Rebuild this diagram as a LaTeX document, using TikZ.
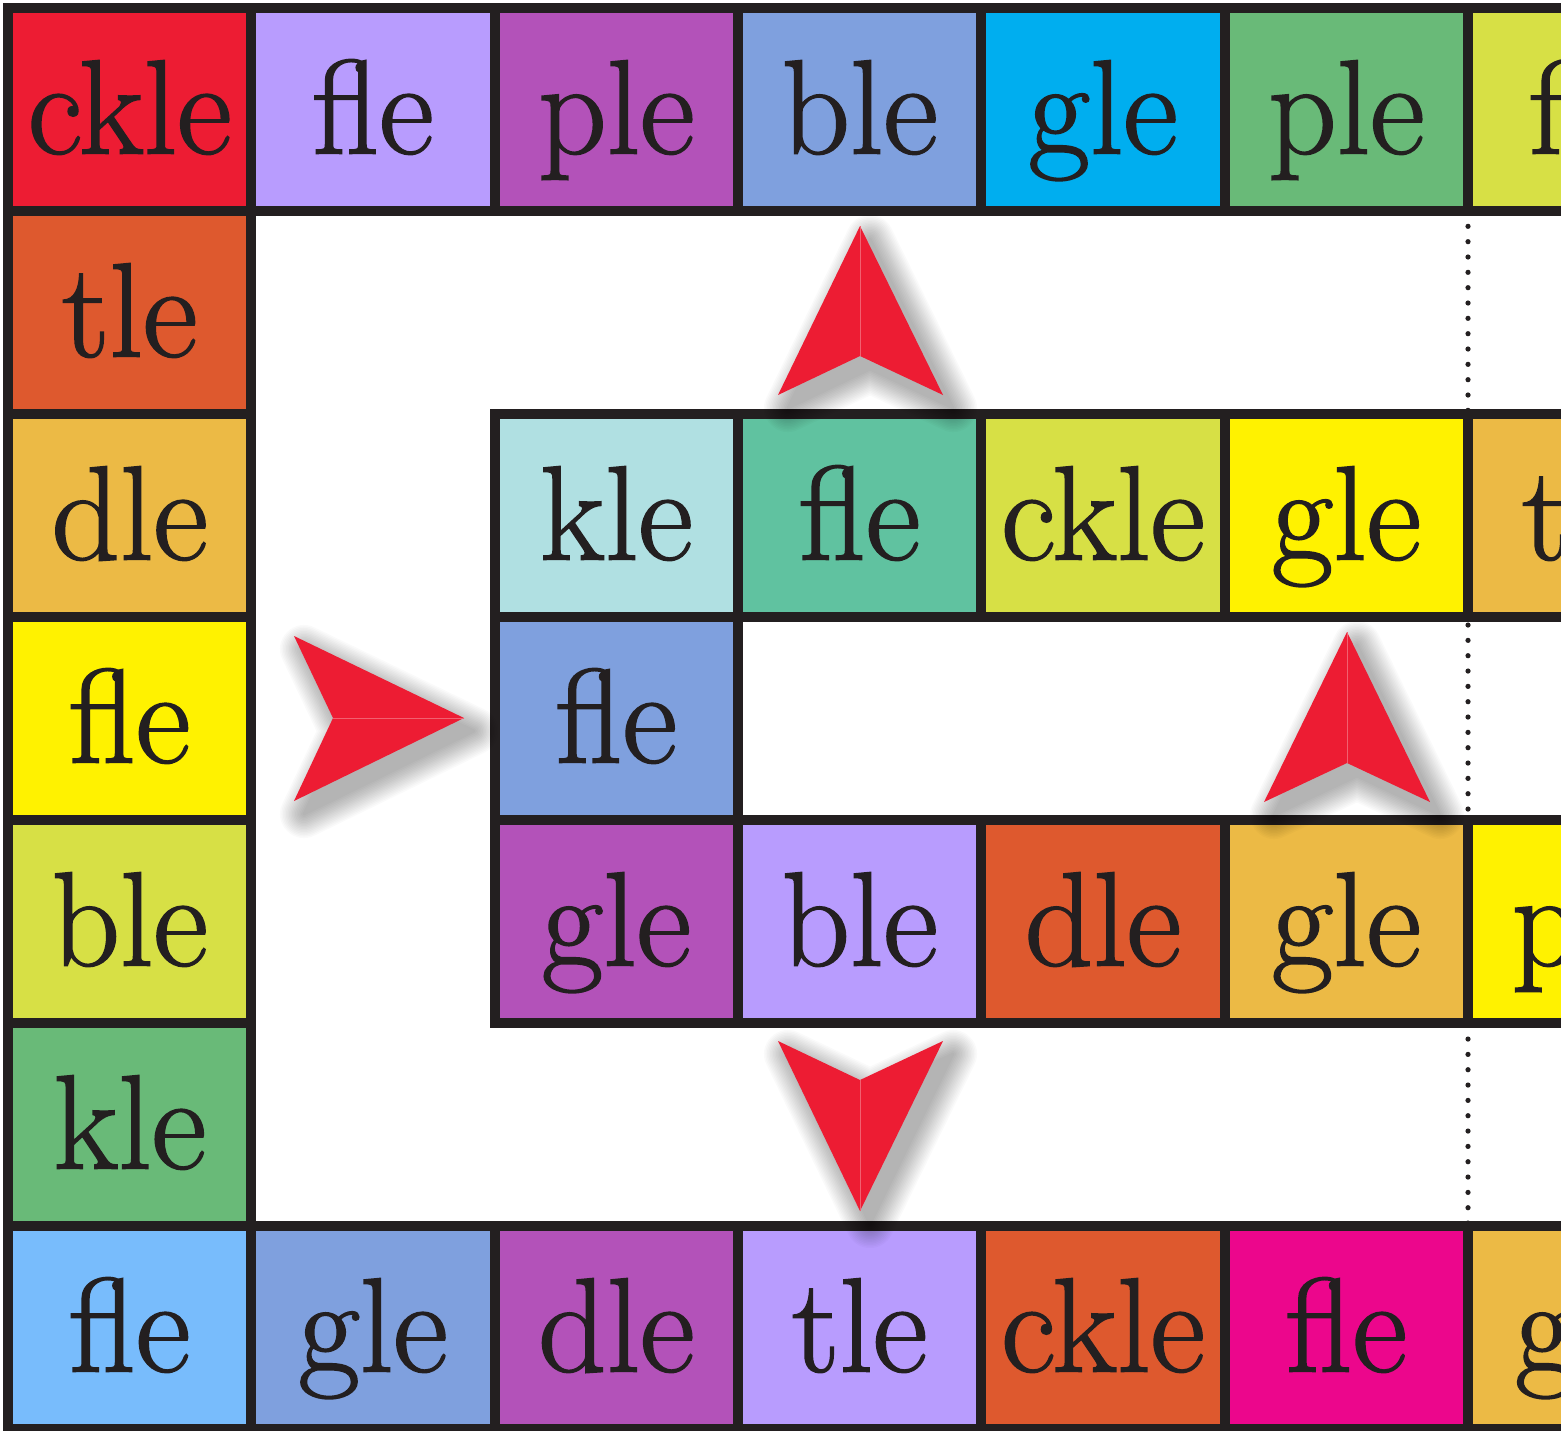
\documentclass[tikz,border=0pt]{standalone}
\usepackage{fontspec}
\newfontfamily\cellfont{lmroman17-regular.otf}[FakeBold=1.3]
\definecolor{bordc}{HTML}{231F20}
\definecolor{arrred}{HTML}{ED1C33}
\definecolor{cRed}{HTML}{ED1C33}
\definecolor{cLav}{HTML}{B89CFE}
\definecolor{cPurp}{HTML}{B352B9}
\definecolor{cPeri}{HTML}{7FA0DE}
\definecolor{cCyan}{HTML}{00AEEF}
\definecolor{cGreen}{HTML}{69BA78}
\definecolor{cYGreen}{HTML}{D7E045}
\definecolor{cOrRed}{HTML}{DE592E}
\definecolor{cOrYel}{HTML}{ECBA45}
\definecolor{cYellow}{HTML}{FFF200}
\definecolor{cPaleCyan}{HTML}{B0E0E2}
\definecolor{cTeal}{HTML}{60C2A0}
\definecolor{cLBlue}{HTML}{78BCFC}
\definecolor{cMagenta}{HTML}{EC068C}
\newcommand\mkcell[4]{\node[cellbox,fill=#3] (c#1#2) at ({129.667+243.333*#2},{109.5+203*#1}) {#4};}
\newcommand\redarrow[4]{%
  \foreach \k in {1,...,16}{%
    \begin{scope}[transparency group, opacity=0.02, xshift=5pt, yshift=-6.5pt]
      \filldraw[black, line width=\k*1.5pt, line join=round] (#1)--(#2)--(#3)--(#4)--cycle;
    \end{scope}}%
  \fill[arrred] (#1)--(#2)--(#3)--(#4)--cycle;
  \draw[seam] (#1)--(#3);
}
\begin{document}
\begin{tikzpicture}[x=0.5pt,y=-0.5pt,
  cellbox/.style={draw=bordc, line width=5pt, rectangle, inner sep=0pt, outer sep=0pt,
    minimum width=121.667pt, minimum height=101.5pt, text height=44pt, text depth=0pt,
    font=\cellfont\fontsize{67}{67}\selectfont, text=bordc},
  seam/.style={draw=arrred!70!white, line width=0.3pt},
  dotline/.style={draw=bordc, line width=2.6pt, line cap=round, dash pattern=on 0pt off 7.667pt}]
\useasboundingbox (0,0) rectangle (1561,1430);
\clip (0,0) rectangle (1561,1430);
\fill[white] (0,0) rectangle (1561,1430);
% dotted guide
\coordinate (dtop) at (1468,211);
\coordinate (dbot) at (1468,1226);
\draw[dotline] (dtop) -- (dbot);
% row 0
\mkcell{0}{0}{cRed}{ckle}
\mkcell{0}{1}{cLav}{fle}
\mkcell{0}{2}{cPurp}{ple}
\mkcell{0}{3}{cPeri}{ble}
\mkcell{0}{4}{cCyan}{gle}
\mkcell{0}{5}{cGreen}{ple}
\mkcell{0}{6}{cYGreen}{fle}
% column 0
\mkcell{1}{0}{cOrRed}{tle}
\mkcell{2}{0}{cOrYel}{dle}
\mkcell{3}{0}{cYellow}{fle}
\mkcell{4}{0}{cYGreen}{ble}
\mkcell{5}{0}{cGreen}{kle}
% row 6
\mkcell{6}{0}{cLBlue}{fle}
\mkcell{6}{1}{cPeri}{gle}
\mkcell{6}{2}{cPurp}{dle}
\mkcell{6}{3}{cLav}{tle}
\mkcell{6}{4}{cOrRed}{ckle}
\mkcell{6}{5}{cMagenta}{fle}
\mkcell{6}{6}{cOrYel}{gle}
% row 2
\mkcell{2}{2}{cPaleCyan}{kle}
\mkcell{2}{3}{cTeal}{fle}
\mkcell{2}{4}{cYGreen}{ckle}
\mkcell{2}{5}{cYellow}{gle}
\mkcell{2}{6}{cOrYel}{tle}
% row 3
\mkcell{3}{2}{cPeri}{fle}
% row 4
\mkcell{4}{2}{cPurp}{gle}
\mkcell{4}{3}{cLav}{ble}
\mkcell{4}{4}{cOrRed}{dle}
\mkcell{4}{5}{cOrYel}{gle}
\mkcell{4}{6}{cYellow}{ple}
% arrows
\redarrow{860,226}{943,395}{860,356}{778,395}
\redarrow{464,718}{294,801}{333,718}{294,636}
\redarrow{1347,632}{1430,802}{1347,763}{1264,802}
\redarrow{860,1211}{943,1041}{860,1080}{778,1041}
\end{tikzpicture}
\end{document}
